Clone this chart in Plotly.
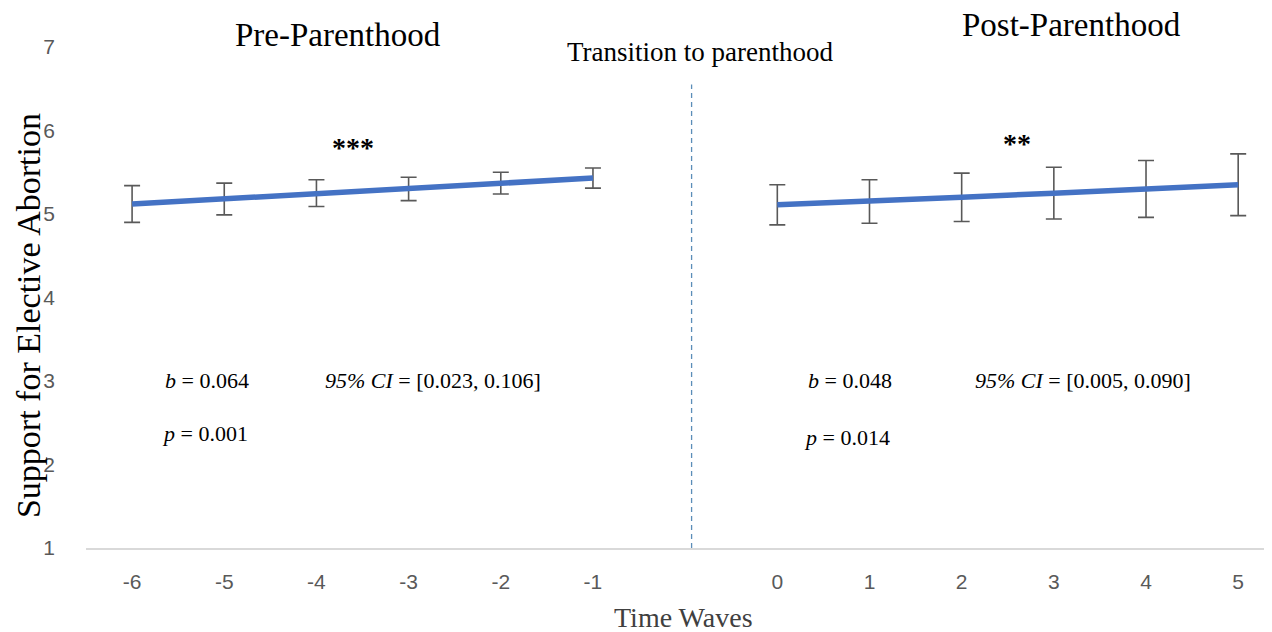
import plotly.graph_objects as go

# ---- data ----
categories = ["-6", "-5", "-4", "-3", "-2", "-1", " ", "0", "1", "2", "3", "4", "5"]
waves_pre = ["-6", "-5", "-4", "-3", "-2", "-1"]
means_pre = [5.12, 5.18, 5.25, 5.30, 5.37, 5.43]
err_pre = [0.22, 0.19, 0.16, 0.14, 0.13, 0.12]
waves_post = ["0", "1", "2", "3", "4", "5"]
means_post = [5.11, 5.15, 5.20, 5.25, 5.30, 5.35]
err_post = [0.24, 0.26, 0.29, 0.31, 0.34, 0.37]
y_ticks = [1, 2, 3, 4, 5, 6, 7]

BLUE = "#4472C4"
GREY = "#595959"
SERIF = "Liberation Serif, Times New Roman, serif"
SANS = "Liberation Sans, Arial, sans-serif"

fig = go.Figure()
for xs, ys, es in [(waves_pre, means_pre, err_pre), (waves_post, means_post, err_post)]:
    fig.add_trace(go.Scatter(
        x=xs, y=ys, mode="lines",
        line=dict(color=BLUE, width=5.5),
        error_y=dict(type="data", array=es, color=GREY, thickness=1.6, width=8),
        showlegend=False, hoverinfo="x+y",
    ))

# transition dashed line
fig.add_shape(type="line", xref="x", yref="y", x0=6.07, x1=6.07, y0=1, y1=6.55,
              line=dict(color="#5B8DB8", width=1.3, dash="5px,4px"))

def ann(x, y, text, size, xanchor="center", xref="x", yref="y", color="black", angle=0):
    fig.add_annotation(x=x, y=y, xref=xref, yref=yref, text=text, showarrow=False,
                       xanchor=xanchor, yanchor="middle", textangle=angle,
                       font=dict(family=SERIF, size=size, color=color))

ann(0.2139, 1.024, "Pre-Parenthood", 33, xref="paper", yref="paper")
ann(0.837, 1.044, "Post-Parenthood", 33, xref="paper", yref="paper")
ann(6.16, 6.94, "Transition to parenthood", 27)
ann(2.40, 5.80, "<b>***</b>", 28)
ann(9.60, 5.85, "<b>**</b>", 28)
ann(0.33, 3.01, "<i>b</i> = 0.064", 22, "left")
ann(2.07, 3.01, "<i>95% CI</i> = [0.023, 0.106]", 22, "left")
ann(0.30, 2.37, "<i>p</i> = 0.001", 22, "left")
ann(7.31, 3.01, "<i>b</i> = 0.048", 22, "left")
ann(9.12, 3.01, "<i>95% CI</i> = [0.005, 0.090]", 22, "left")
ann(7.27, 2.32, "<i>p</i> = 0.014", 22, "left")

# axis titles
ann(-0.0492, 0.463, "Support for Elective Abortion", 34, xref="paper", yref="paper", angle=-90)
ann(0.5076, -0.1397, "Time Waves", 28, xref="paper", yref="paper", color="#404040")

fig.update_layout(
    width=1256, height=624,
    margin=dict(l=78, r=0, t=39, b=84, autoexpand=False),
    paper_bgcolor="white", plot_bgcolor="white",
    xaxis=dict(type="category", categoryorder="array", categoryarray=categories,
               range=[-0.5, 12.28], showgrid=False, zeroline=False, automargin=False,
               showline=True, linecolor="#D9D9D9", linewidth=1.5, ticks="",
               tickfont=dict(family=SANS, size=21, color=GREY), ticklabelstandoff=14),
    yaxis=dict(range=[1, 7], tickvals=y_ticks, showgrid=False, zeroline=False,
               showline=False, ticks="", automargin=False,
               tickfont=dict(family=SANS, size=21, color=GREY), ticklabelstandoff=30),
)
fig.write_html("out.html")
